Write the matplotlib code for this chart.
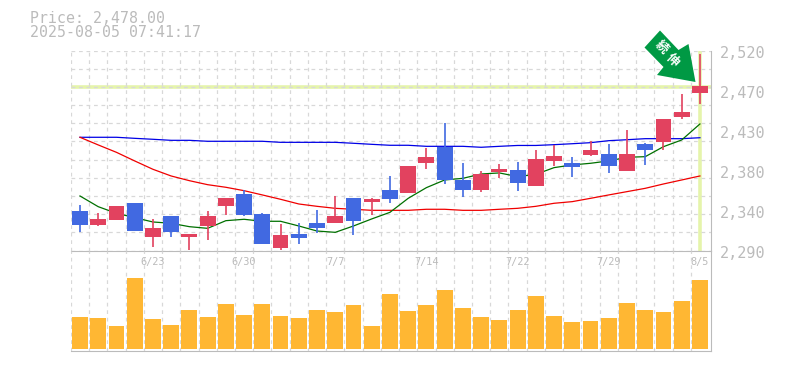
import numpy as np
import matplotlib
matplotlib.use('Agg')
import matplotlib.pyplot as plt
from matplotlib.patches import Polygon

GREY = '#bbbbbb'
GRID = '#d8d8d8'
UP = '#e2425f'
DOWN = '#4169e1'
FONT = 'DejaVu Sans Mono'

title_price = 'Price: 2,478.00'
title_time = '2025-08-05 07:41:17'
last_price = 2478

opens = [2335.5, 2319.4, 2325.1, 2344.7, 2305.6, 2329.7, 2305.6, 2318.2, 2341.2, 2355.0, 2332.0, 2292.9,
         2309.0, 2321.7, 2321.7, 2350.4, 2345.8, 2359.6, 2356.2, 2390.7, 2409.4, 2371.1, 2359.6, 2380.3,
         2382.6, 2364.2, 2393.0, 2390.7, 2399.9, 2401.0, 2381.5, 2412.5, 2414.8, 2443.6, 2471.2]
closes = [2319.4, 2326.3, 2341.2, 2312.5, 2315.9, 2311.3, 2309.0, 2329.7, 2350.4, 2330.9, 2297.5, 2307.9,
          2304.4, 2315.9, 2329.7, 2323.9, 2349.3, 2349.3, 2387.2, 2397.5, 2371.1, 2359.6, 2378.0, 2383.8,
          2367.7, 2395.3, 2398.7, 2386.0, 2405.6, 2387.2, 2401.0, 2405.6, 2441.3, 2449.3, 2479.2]
highs = [2342.4, 2333.2, 2341.2, 2344.7, 2326.3, 2329.7, 2309.0, 2335.5, 2350.4, 2359.6, 2333.2, 2320.5,
         2321.3, 2336.6, 2352.7, 2350.4, 2350.4, 2375.7, 2387.2, 2407.9, 2436.7, 2390.7, 2381.5, 2389.5,
         2391.8, 2405.6, 2411.4, 2397.6, 2416.0, 2412.5, 2428.6, 2413.7, 2441.3, 2470.0, 2516.0]
lows = [2311.3, 2318.2, 2325.1, 2312.5, 2294.1, 2305.6, 2290.2, 2302.1, 2330.9, 2329.7, 2297.5, 2290.2,
        2297.5, 2310.2, 2321.7, 2307.9, 2330.9, 2344.7, 2356.2, 2383.8, 2366.5, 2351.6, 2357.3, 2373.4,
        2358.5, 2364.2, 2387.2, 2374.6, 2398.7, 2379.2, 2381.5, 2388.4, 2405.6, 2441.3, 2458.5]

ma_green = [2352.7, 2340.4, 2332.8, 2327.8, 2322.8, 2321.3, 2317.4, 2315.5, 2324.3, 2325.9, 2323.6, 2323.6,
            2318.2, 2312.4, 2310.9, 2318.2, 2326.3, 2333.9, 2350.0, 2362.3, 2371.1, 2373.0, 2378.0, 2379.2,
            2375.0, 2377.6, 2385.3, 2388.4, 2390.3, 2393.0, 2397.2, 2397.9, 2409.4, 2417.1, 2435.5]
ma_blue = [2420.2, 2420.2, 2420.2, 2419.0, 2417.9, 2416.7, 2416.7, 2415.6, 2415.6, 2415.6, 2415.6, 2414.4,
           2414.4, 2414.4, 2414.4, 2413.3, 2412.1, 2411.0, 2411.0, 2409.8, 2409.8, 2409.8, 2408.7, 2409.8,
           2410.8, 2410.8, 2411.7, 2412.8, 2414.0, 2416.3, 2417.4, 2418.6, 2418.6, 2418.6, 2419.7]
ma_red = [2420.2, 2411.4, 2402.9, 2393.0, 2383.4, 2375.7, 2370.3, 2365.7, 2362.7, 2358.8, 2353.9, 2348.9,
          2343.5, 2340.8, 2338.5, 2337.4, 2336.2, 2336.2, 2336.2, 2337.4, 2337.4, 2336.2, 2336.2, 2337.4,
          2338.5, 2340.8, 2344.3, 2346.2, 2350.0, 2353.9, 2357.7, 2361.5, 2366.5, 2371.1, 2375.7]

volume = [32, 31, 23, 71, 30, 24, 39, 32, 45, 34, 45, 33, 31, 39, 37, 44, 23, 55,
          38, 44, 59, 41, 32, 29, 39, 53, 33, 27, 28, 31, 46, 39, 37, 48, 69]

date_pos = [4, 9, 14, 19, 24, 29, 34]
date_labels = ['6/23', '6/30', '7/7', '7/14', '7/22', '7/29', '8/5']
price_ticks = [2520, 2474, 2428, 2382, 2336, 2290]
price_labels = ['2,520', '2,470', '2,430', '2,380', '2,340', '2,290']

W, H = 785, 370
fig = plt.figure(figsize=(W / 100, H / 100), dpi=100, facecolor='white')


def px_axes(left, top, right, bottom):
    return fig.add_axes([left / W, 1 - bottom / H, (right - left) / W, (bottom - top) / H])


ax = px_axes(70.5, 50.5, 710.5, 250.5)
ax2 = px_axes(70.5, 250.5, 710.5, 350.5)

n = len(opens)
xs = np.arange(n)
for a in (ax, ax2):
    a.set_xlim(-0.52, 34.58)
    a.set_xticks(xs - 0.5, minor=True)
    a.grid(True, which='minor', axis='x', color=GRID, lw=0.9, ls=(0, (3, 3)), zorder=0)
    a.tick_params(which='both', length=0)
    a.set_xticks([])
    for s in ('top', 'left'):
        a.spines[s].set_visible(False)
    a.spines['bottom'].set_color(GREY)
    a.spines['right'].set_color(GREY)
    a.set_facecolor('none')

# price panel
ax.set_ylim(2290, 2520)
ax.set_yticks(np.linspace(2290, 2520, 12))
ax.grid(True, which='major', axis='y', color=GRID, lw=0.9, ls=(0, (3, 3)), zorder=0)
ax.set_yticklabels([])

ax.axhline(last_price, color='#e5f4ab', lw=2.6, zorder=1)
ax.plot([n - 1, n - 1], [2291, 2519], color='#e5f4ab', lw=2.6, zorder=1)

ax.plot(xs, ma_blue, color='#0000e6', lw=0.9, zorder=2)
ax.plot(xs, ma_red, color='#f00000', lw=0.9, zorder=2)
ax.plot(xs, ma_green, color='#007000', lw=0.9, zorder=2)

colors = [UP if c >= o else DOWN for o, c in zip(opens, closes)]
ax.vlines(xs, lows, highs, colors=colors, lw=1.2, zorder=3)
ax.bar(xs, np.abs(np.array(closes) - np.array(opens)), bottom=np.minimum(opens, closes),
       width=0.87, color=colors, zorder=3)

for tick, lab in zip(price_ticks, price_labels):
    ax.annotate(lab, xy=(1, tick), xycoords=ax.get_yaxis_transform(), xytext=(9.5, -2.5),
                textcoords='offset pixels', color=GREY, fontsize=10.9, family=FONT, va='center',
                annotation_clip=False)

for i, lab in zip(date_pos, date_labels):
    ax2.text(i, 86, lab, color=GREY, fontsize=7.4, family=FONT, ha='center', va='center')

# volume panel
ax2.set_ylim(-2, 98)
ax2.set_yticks([])
ax2.bar(xs, volume, width=0.87, color='#ffb733', zorder=3)

fig.text(29.5 / W, 1 - 18.5 / H, title_price, color=GREY, fontsize=10.7, family=FONT, va='center')
fig.text(29.5 / W, 1 - 32.5 / H, title_time, color=GREY, fontsize=10.7, family=FONT, va='center')

# green arrow badge
arrow_px = [(660, 30.5), (644.5, 47.5), (663.5, 67), (657, 75), (695.5, 82), (688.5, 44), (678.5, 50)]
fig.add_artist(Polygon([(x / W, 1 - y / H) for x, y in arrow_px], closed=True, transform=fig.transFigure,
                       facecolor='#009944', edgecolor='none', zorder=6))
for (gx, gy), ch in zip([(661, 47), (672, 60)], '続伸'):
    fig.text(gx / W, 1 - gy / H, ch, color='white', fontsize=9, fontweight='bold',
             family=['Noto Sans CJK JP', 'DejaVu Sans'], rotation=-45, rotation_mode='anchor',
             ha='center', va='center', zorder=7)

fig.savefig('out.png', dpi=100)
